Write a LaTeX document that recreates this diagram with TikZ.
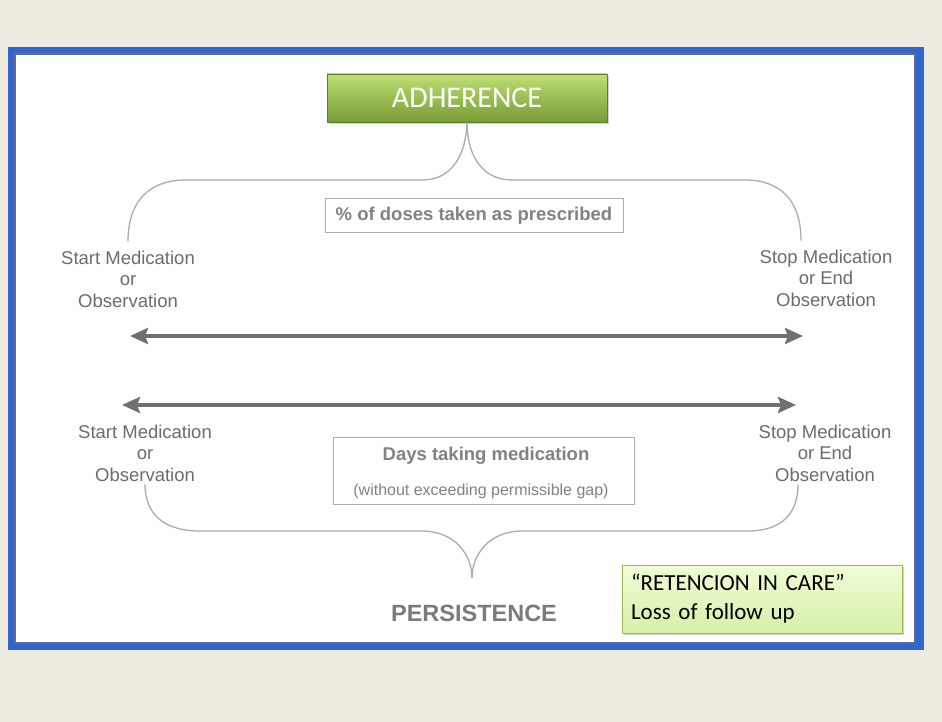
\documentclass[tikz,border=0pt]{standalone}
\usepackage{fontspec}
\setmainfont{Liberation Sans}
\newfontfamily\notefont{Carlito}
\usetikzlibrary{arrows.meta,positioning,shadows}
\definecolor{bgbeige}{RGB}{238,236,225}
\definecolor{frameblue}{RGB}{51,102,204}
\definecolor{adhtop}{RGB}{190,224,116}
\definecolor{adhbot}{RGB}{118,156,52}
\definecolor{labelgray}{RGB}{108,108,108}
\definecolor{linegray}{RGB}{172,172,172}
\definecolor{arrowgray}{RGB}{112,112,112}
\definecolor{notegreen}{RGB}{155,187,89}
\definecolor{notetop}{RGB}{240,252,214}
\definecolor{notebot}{RGB}{214,240,168}

\begin{document}
\begin{tikzpicture}[
    x=1pt, y=-1pt,
    label/.style={align=center, text=labelgray, font=\fontsize{18.5}{21.5}\selectfont, inner sep=1pt},
    infobox/.style={draw=linegray, line width=1pt, align=center, text=labelgray!85, inner sep=0pt},
    brace/.style={draw=linegray, line width=1.3pt},
    span/.style={{Stealth[length=18pt,width=16pt,inset=3pt]}-{Stealth[length=18pt,width=16pt,inset=3pt]}, line width=4pt, arrowgray}
  ]
    % frame
    \fill[bgbeige] (0,0) rectangle (942,722);
    \useasboundingbox (0,0) rectangle (942,722);
    \fill[frameblue] (8,47) rectangle (924,650);
    \filldraw[fill=white, draw=black!70!blue!60, line width=1.5pt] (15,54) rectangle (915,643);

    \node[draw=adhbot!80!black, line width=0.6pt, top color=adhtop, bottom color=adhbot,
      drop shadow={shadow xshift=1.5pt, shadow yshift=-2pt, opacity=0.35},
      minimum width=280pt, minimum height=48pt, text=white,
      font=\notefont\fontsize{30}{30}\selectfont] (adh) at (467,98) {ADHERENCE};
    \node[infobox, minimum width=298pt, minimum height=33pt,
      font=\bfseries\fontsize{18.5}{20}\selectfont] (doses) at (474,215.5) {\% of doses taken as prescribed};

    \node[label] (startA) at (128,279) {Start Medication\\or\\Observation};
    \node[label] (stopA) at (826,278) {Stop Medication\\or End\\Observation};

    \coordinate (a1) at (130,336);
    \coordinate (a2) at (803,336);
    \coordinate (p1) at (122,405);
    \coordinate (p2) at (796,405);

    \node[label] (startP) at (145,453) {Start Medication\\or\\Observation};
    \node[label] (stopP) at (825,453) {Stop Medication\\or End\\Observation};

    \node[infobox, minimum width=301pt, minimum height=67pt] (days) at (483.5,470.5) {};
    \node[text=labelgray!85, font=\bfseries\fontsize{18.5}{20}\selectfont] (daystitle) at (486,456) {Days taking medication};
    \node[text=labelgray!85, font=\fontsize{16}{18}\selectfont] (daysnote) at (481,491) {(without exceeding permissible gap)};

    \coordinate (ptip) at (472,578);
    \node[text=labelgray!90, font=\bfseries\fontsize{23.5}{25}\selectfont] (persist) at (474,613) {PERSISTENCE};

    \node[draw=notegreen, line width=1pt, top color=notetop, bottom color=notebot,
      drop shadow={shadow xshift=1.5pt, shadow yshift=-2pt, opacity=0.35},
      minimum width=280pt, minimum height=68pt, align=left, text width=262pt,
      font=\notefont\fontsize{23}{29}\selectfont] (retain) at (762,599) {“RETENCION IN CARE”\\Loss of follow up};

    % braces
    \draw[brace] ([yshift=8pt]startA.north) .. controls (128,200) and (150,180) .. (186,180)
      -- (422,180) .. controls (452,180) and (466,155) .. (adh.south);
    \draw[brace] ([yshift=8pt]stopA.north -| 801,0) .. controls (801,200) and (780,180) .. (745,180)
      -- (512,180) .. controls (482,180) and (467,155) .. (adh.south);
    \draw[brace] ([yshift=-2pt]startP.south) .. controls (145,515) and (165,531) .. (200,531)
      -- (422,531) .. controls (455,531) and (472,555) .. (ptip);
    \draw[brace] ([yshift=-2pt]stopP.south -| 798,0) .. controls (798,515) and (780,531) .. (748,531)
      -- (522,531) .. controls (489,531) and (472,555) .. (ptip);

    % arrows
    \draw[span] (a1) -- (a2);
    \draw[span] (p1) -- (p2);
  \end{tikzpicture}
\end{document}
